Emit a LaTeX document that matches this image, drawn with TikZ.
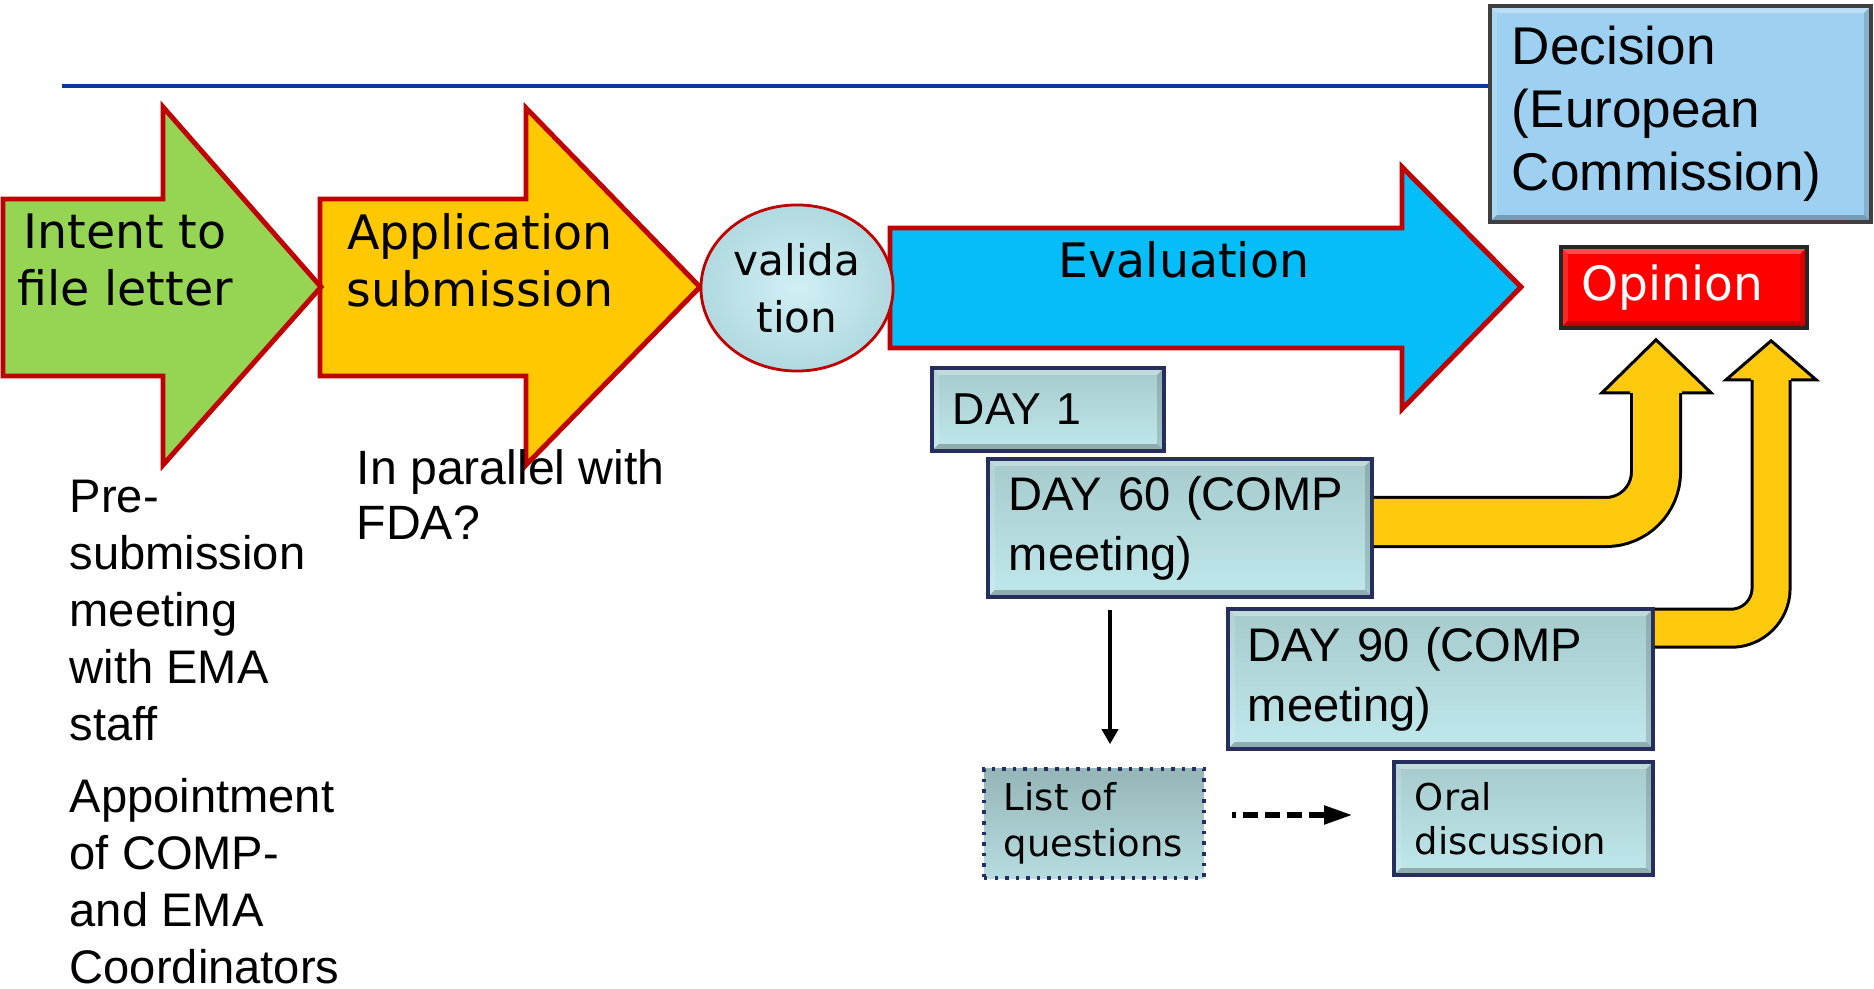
\documentclass[tikz,border=0pt]{standalone}
\usepackage{fontspec}
\setmainfont{Liberation Sans}
\newfontfamily\verdfont{DejaVu Sans}
\usepackage{tikz}
\usetikzlibrary{arrows,arrows.meta,shapes}
\usetikzlibrary{positioning}
\usetikzlibrary{calc}

\definecolor{stepred}{HTML}{C00000}
\definecolor{intentgreen}{HTML}{96D453}
\definecolor{submityellow}{HTML}{FFC800}
\definecolor{evalblue}{HTML}{05BEF8}
\definecolor{validcyan}{HTML}{CFF0F5}
\definecolor{validedge}{HTML}{B2D9E0}
\definecolor{decisionblue}{HTML}{9ED0F2}
\definecolor{daytop}{HTML}{A6CACC}
\definecolor{daybottom}{HTML}{C0E8EC}
\definecolor{dayedge}{HTML}{252E5C}
\definecolor{ruleblue}{HTML}{0A3A9E}
\definecolor{fatyellow}{HTML}{FFC90E}

\tikzset{
    stagearrow/.style={draw=stepred, line width=1.4pt, line join=miter},
    stagetext/.style={align=center, inner sep=0pt,
        font=\verdfont\fontsize{13.5}{16.2}\selectfont},
    validnode/.style={ellipse, draw=stepred, line width=0.8pt, inner color=validcyan, outer color=validedge,
        minimum width=1.92cm, minimum height=1.66cm, inner sep=0pt, align=center,
        font=\verdfont\fontsize{12}{16.2}\selectfont},
    bevel/.style={path picture={
        \coordinate (bvnw) at (path picture bounding box.north west);
        \coordinate (bvne) at (path picture bounding box.north east);
        \coordinate (bvsw) at (path picture bounding box.south west);
        \coordinate (bvse) at (path picture bounding box.south east);
        \fill[white, opacity=.3] (bvnw) -- (bvne) -- ([shift={(-0.07cm,-0.07cm)}]bvne) -- ([shift={(0.07cm,-0.07cm)}]bvnw) -- cycle;
        \fill[white, opacity=.15] (bvnw) -- (bvsw) -- ([shift={(0.07cm,0.07cm)}]bvsw) -- ([shift={(0.07cm,-0.07cm)}]bvnw) -- cycle;
        \fill[black, opacity=.25] (bvsw) -- (bvse) -- ([shift={(-0.07cm,0.07cm)}]bvse) -- ([shift={(0.07cm,0.07cm)}]bvsw) -- cycle;
        \fill[black, opacity=.15] (bvne) -- (bvse) -- ([shift={(-0.07cm,0.07cm)}]bvse) -- ([shift={(-0.07cm,-0.07cm)}]bvne) -- cycle;
    }},
    daybox/.style={draw=dayedge, line width=1pt, top color=daytop, bottom color=daybottom,
        inner xsep=0.21cm, inner ysep=0pt, align=left, bevel,
        font=\fontsize{13.4}{17}\selectfont},
    smallbox/.style={daybox, font=\verdfont\fontsize{10.5}{13}\selectfont},
    listbox/.style={draw=dayedge, line width=1pt, dotted, top color=daytop!90!black, bottom color=daybottom!95!black,
        inner xsep=0.2cm, inner ysep=0pt, align=left,
        font=\verdfont\fontsize{10.5}{13}\selectfont},
    notetext/.style={align=left, inner sep=0pt, anchor=north west,
        font=\fontsize{13.4}{16.2}\selectfont},
    fatshaft/.style={draw=black, line width=0.03cm, double=fatyellow, rounded corners=0.5cm},
    fathead/.style={draw=black, line width=0.03cm, fill=fatyellow, line join=miter},
    qarrow/.style={-{Triangle[length=0.15cm, width=0.16cm]}, line width=0.045cm},
    dasharrow/.style={-{Triangle[length=0.28cm, width=0.18cm]}, line width=0.05cm,
        dash pattern=on 0.15cm off 0.07cm, dash phase=0.11cm},
}

\begin{document}
\begin{tikzpicture}[x=0.01cm, y=-0.01cm]
	\useasboundingbox (0,0) rectangle (1874,989);
	\coordinate (rulestart) at (62,86);

	% the three stages
	\filldraw[stagearrow, fill=submityellow] (320,199) -- (526,199) -- (526,108) -- (700,287) -- (526,465) -- (526,376) -- (320,376) -- cycle;
	\filldraw[stagearrow, fill=intentgreen] (3,199) -- (163,199) -- (163,107) -- (321,287) -- (163,465) -- (163,376) -- (3,376) -- cycle;
	\filldraw[stagearrow, fill=evalblue] (890,228) -- (1402,228) -- (1402,167) -- (1521,287) -- (1402,409) -- (1402,348) -- (890,348) -- cycle;
	\node[stagetext] (intent) at (125,260) {Intent to\\file letter};
	\node[stagetext] (application) at (480,260) {Application\\submission};
	\node[stagetext] (evaluation) at (1184,260) {Evaluation};
	\node[validnode] (validation) at (797,288) {valida\\tion};

	% decision and opinion
	\node[daybox, top color=decisionblue, bottom color=decisionblue, draw=black!75,
		text width=3.37cm, minimum height=2.16cm, inner xsep=0.22cm,
		font=\fontsize{15.1}{17.9}\selectfont] (decision) at (1680.5,114) {Decision\\(European\\Commission)};
	\draw[ruleblue, line width=1.15pt] (rulestart) -- (rulestart -| decision.west);
	\node[bevel, draw=black!85, line width=1pt, fill=red, text=white, minimum width=2.46cm, minimum height=0.81cm,
		inner sep=0pt, font=\verdfont\fontsize{13.4}{16}\selectfont] (opinion) at (1684,287.5) {Opinion\hspace*{0.24cm}};

	% timetable
	\node[daybox, text width=1.90cm, minimum height=0.83cm, font=\fontsize{12.7}{16}\selectfont] (day1) at (1048,409.5) {DAY 1};
	\node[daybox, text width=3.42cm, minimum height=1.38cm] (day60) at (1180,528) {DAY 60 (COMP\\meeting)};
	\node[daybox, text width=3.85cm, minimum height=1.40cm, inner xsep=0.2cm] (day90) at (1440.5,679) {DAY 90 (COMP\\meeting)};
	\node[listbox, text width=1.80cm, minimum height=1.09cm] (questions) at (1094,823.5) {List of\\questions};
	\node[smallbox, text width=2.17cm, minimum height=1.13cm, font=\verdfont\fontsize{10.5}{12.5}\selectfont] (oral) at (1523.5,818.5) {Oral\\discussion};

	\draw[qarrow, shorten <=0.11cm, shorten >=0.23cm] ([xshift=0.16cm]questions.north |- day60.south) -- ([xshift=0.16cm]questions.north);
	\draw[dasharrow, shorten <=0.26cm, shorten >=0.4cm] ([yshift=0.085cm]questions.east) -- ([yshift=0.085cm]questions.east -| oral.west);

	% back to the opinion
	\coordinate (tipA) at ([xshift=-0.28cm, yshift=-0.1cm]opinion.south);
	\coordinate (tipB) at ([xshift=0.87cm, yshift=-0.11cm]opinion.south);
	\draw[fatshaft, double distance=0.46cm] ([yshift=0.06cm]day60.east) -| ($(tipA)+(0,47)$);
	\filldraw[fathead] ($(tipA)+(-26,53)$) -- ($(tipA)+(-54,53)$) -- (tipA) -- ($(tipA)+(55,53)$) -- ($(tipA)+(26,53)$);
	\draw[fatshaft, double distance=0.35cm, rounded corners=0.4cm] ([yshift=-0.21cm]day90.north east) -| ($(tipB)+(0,33)$);
	\filldraw[fathead] ($(tipB)+(-20,39)$) -- ($(tipB)+(-45,39)$) -- (tipB) -- ($(tipB)+(45,39)$) -- ($(tipB)+(20,39)$);

	% side notes
	\node[notetext] (presub) at (69,479) {Pre-\\submission\\meeting\\with EMA\\staff};
	\node[notetext] (appoint) at (69,778) {Appointment\\of COMP-\\and EMA\\Coordinators};
	\node[notetext, font=\fontsize{13.7}{15.6}\selectfont] (parallel) at (356,449) {In parallel with\\FDA?};
\end{tikzpicture}
\end{document}
